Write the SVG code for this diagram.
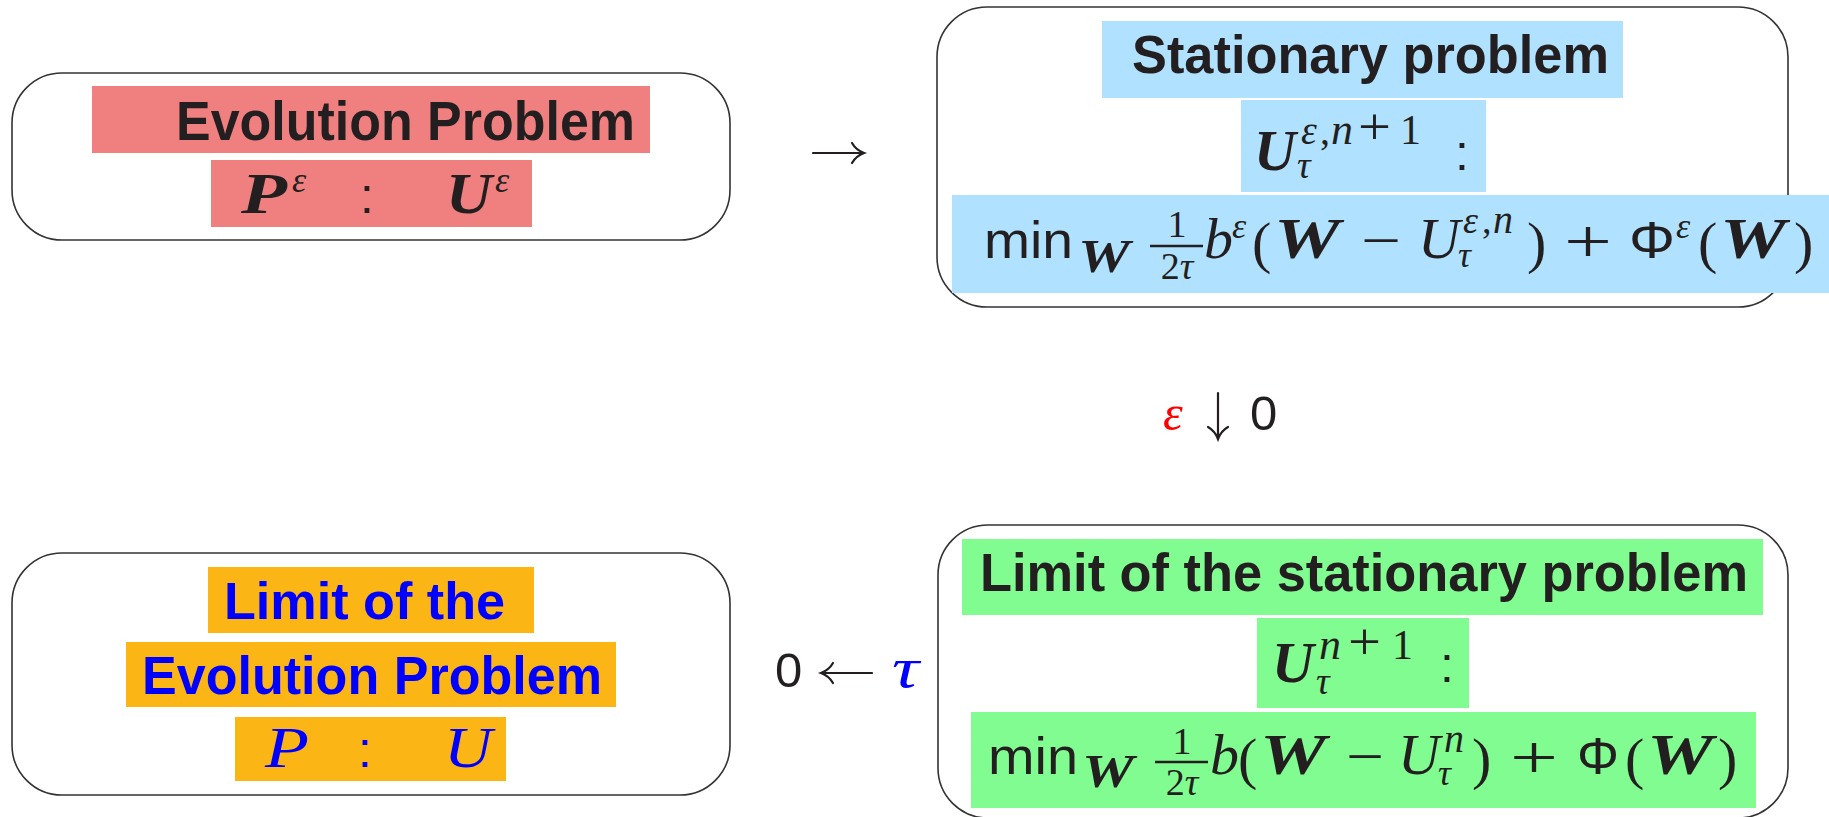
<svg xmlns="http://www.w3.org/2000/svg" width="1829" height="817" viewBox="0 0 1829 817">
<style>
.box{fill:#fff;stroke:#333;stroke-width:1.6}
.red{fill:#F08080}.blu{fill:#B0E2FF}.grn{fill:#80FC90}.org{fill:#FBB615}
.t{font-family:"Liberation Sans",Arial,sans-serif;font-weight:bold;fill:#231F20}
.tb{fill:#0000FF}
.ms{font-family:"Liberation Sans",Arial,sans-serif;fill:#231F20}
.mi{font-family:"Liberation Serif","Times New Roman",serif;font-style:italic;fill:#231F20}
.mb{font-family:"Liberation Serif","Times New Roman",serif;font-style:italic;font-weight:bold;fill:#231F20}
.mr{font-family:"Liberation Serif","Times New Roman",serif;fill:#231F20}
.arr{fill:none;stroke:#231F20;stroke-width:2.2;stroke-linecap:round}
.bar{stroke:#231F20;stroke-width:2.4}
</style>
<rect width="1829" height="817" fill="#fff"/>

<g id="evolution">
<rect class="box" x="12" y="73" width="718" height="167" rx="50"/>
<rect class="red" x="92" y="86" width="558" height="67"/>
<rect class="red" x="211" y="160" width="321" height="67"/>
<text class="t" x="176" y="140" font-size="55" textLength="459" lengthAdjust="spacingAndGlyphs">Evolution Problem</text>
<text class="mb" x="241" y="213" font-size="58" textLength="46" lengthAdjust="spacingAndGlyphs">P</text>
<text class="mi" x="292" y="192" font-size="36">ε</text>
<text class="ms" x="360" y="213" font-size="50">:</text>
<text class="mb" x="446" y="213" font-size="58" textLength="46" lengthAdjust="spacingAndGlyphs">U</text>
<text class="mi" x="495" y="192" font-size="36">ε</text>
</g>

<g id="stationary">
<rect class="box" x="937" y="7" width="851" height="300" rx="50"/>
<rect class="blu" x="1102" y="21" width="521" height="77"/>
<rect class="blu" x="1241" y="100" width="245" height="92"/>
<rect class="blu" x="952" y="195" width="877" height="98"/>
<text class="t" x="1132" y="73" font-size="53" textLength="477" lengthAdjust="spacingAndGlyphs">Stationary problem</text>
<text class="mb" x="1254" y="170" font-size="58">U</text>
<text class="mi" x="1301" y="144" font-size="40">ε</text>
<text class="mr" x="1320" y="144" font-size="40">,</text>
<text class="mi" x="1331" y="144" font-size="44">n</text>
<text class="mr" x="1358" y="144" font-size="52" textLength="33" lengthAdjust="spacingAndGlyphs">+</text>
<text class="mr" x="1400" y="144" font-size="42">1</text>
<text class="mi" x="1297" y="178" font-size="38">τ</text>
<text class="ms" x="1455" y="170" font-size="50">:</text>
<text class="ms" x="984" y="258" font-size="52" textLength="89" lengthAdjust="spacingAndGlyphs">min</text>
<text class="mb" x="1078" y="272" font-size="46" textLength="52" lengthAdjust="spacingAndGlyphs">W</text>
<text class="mr" x="1177" y="237" font-size="38" text-anchor="middle">1</text>
<line class="bar" x1="1150" y1="246" x2="1203" y2="246"/>
<text x="1177" y="279" font-size="38" text-anchor="middle"><tspan class="mr">2</tspan><tspan class="mi">τ</tspan></text>
<text class="mi" x="1204" y="258" font-size="58">b</text>
<text class="mi" x="1232" y="238" font-size="36">ε</text>
<text class="mr" x="1252" y="262" font-size="58">(</text>
<text class="mb" x="1274" y="258" font-size="58" textLength="66" lengthAdjust="spacingAndGlyphs">W</text>
<text class="mr" x="1361" y="260" font-size="58" textLength="40" lengthAdjust="spacingAndGlyphs">−</text>
<text class="mi" x="1418" y="258" font-size="58">U</text>
<text class="mi" x="1463" y="233" font-size="38">ε</text>
<text class="mr" x="1482" y="233" font-size="38">,</text>
<text class="mi" x="1493" y="233" font-size="40">n</text>
<text class="mi" x="1458" y="267" font-size="36">τ</text>
<text class="mr" x="1527" y="262" font-size="58">)</text>
<text class="mr" x="1564" y="262" font-size="62" textLength="48" lengthAdjust="spacingAndGlyphs">+</text>
<text class="ms" x="1629" y="258" font-size="52" textLength="46" lengthAdjust="spacingAndGlyphs">Φ</text>
<text class="mi" x="1676" y="238" font-size="36">ε</text>
<text class="mr" x="1698" y="262" font-size="58">(</text>
<text class="mb" x="1720" y="258" font-size="58" textLength="66" lengthAdjust="spacingAndGlyphs">W</text>
<text class="mr" x="1794" y="262" font-size="58">)</text>
</g>

<g id="limit-evolution">
<rect class="box" x="12" y="553" width="718" height="242" rx="50"/>
<rect class="org" x="208" y="567" width="326" height="66"/>
<rect class="org" x="126" y="642" width="490" height="65"/>
<rect class="org" x="235" y="717" width="271" height="64"/>
<text class="t tb" x="224" y="619" font-size="52" textLength="281" lengthAdjust="spacingAndGlyphs">Limit of the</text>
<text class="t tb" x="142" y="694" font-size="53" textLength="460" lengthAdjust="spacingAndGlyphs">Evolution Problem</text>
<text class="mi" x="265" y="767" font-size="58" style="fill:#0000FF" textLength="44" lengthAdjust="spacingAndGlyphs">P</text>
<text class="ms" x="358" y="767" font-size="50" style="fill:#0000FF">:</text>
<text class="mi" x="444" y="767" font-size="58" style="fill:#0000FF" textLength="48" lengthAdjust="spacingAndGlyphs">U</text>
</g>

<g id="limit-stationary">
<rect class="box" x="938" y="525" width="850" height="293" rx="50"/>
<rect class="grn" x="962" y="539" width="801" height="76"/>
<rect class="grn" x="1257" y="618" width="212" height="90"/>
<rect class="grn" x="971" y="712" width="785" height="96"/>
<text class="t" x="980" y="591" font-size="53" textLength="768" lengthAdjust="spacingAndGlyphs">Limit of the stationary problem</text>
<text class="mb" x="1272" y="682" font-size="58">U</text>
<text class="mi" x="1319" y="659" font-size="44">n</text>
<text class="mr" x="1348" y="659" font-size="52" textLength="33" lengthAdjust="spacingAndGlyphs">+</text>
<text class="mr" x="1392" y="659" font-size="42">1</text>
<text class="mi" x="1316" y="694" font-size="38">τ</text>
<text class="ms" x="1440" y="682" font-size="50">:</text>
<text class="ms" x="988" y="774" font-size="52" textLength="90" lengthAdjust="spacingAndGlyphs">min</text>
<text class="mb" x="1082" y="787" font-size="46" textLength="52" lengthAdjust="spacingAndGlyphs">W</text>
<text class="mr" x="1182" y="754" font-size="38" text-anchor="middle">1</text>
<line class="bar" x1="1155" y1="762" x2="1208" y2="762"/>
<text x="1182" y="795" font-size="38" text-anchor="middle"><tspan class="mr">2</tspan><tspan class="mi">τ</tspan></text>
<text class="mi" x="1210" y="774" font-size="58">b</text>
<text class="mr" x="1238" y="778" font-size="58">(</text>
<text class="mb" x="1260" y="774" font-size="58" textLength="66" lengthAdjust="spacingAndGlyphs">W</text>
<text class="mr" x="1346" y="776" font-size="58" textLength="38" lengthAdjust="spacingAndGlyphs">−</text>
<text class="mi" x="1398" y="774" font-size="58">U</text>
<text class="mi" x="1444" y="752" font-size="40">n</text>
<text class="mi" x="1438" y="785" font-size="36">τ</text>
<text class="mr" x="1472" y="778" font-size="58">)</text>
<text class="mr" x="1510" y="778" font-size="62" textLength="48" lengthAdjust="spacingAndGlyphs">+</text>
<text class="ms" x="1577" y="774" font-size="52" textLength="42" lengthAdjust="spacingAndGlyphs">Φ</text>
<text class="mr" x="1625" y="778" font-size="58">(</text>
<text class="mb" x="1647" y="774" font-size="58" textLength="66" lengthAdjust="spacingAndGlyphs">W</text>
<text class="mr" x="1718" y="778" font-size="58">)</text>
</g>

<g id="connectors">
<path class="arr" d="M813,153 L863,153 M852,143 Q856,150 864,153 Q856,156 852,163"/>
<path class="arr" d="M1218,393 L1218,438 M1208,427 Q1215,431 1218,439 Q1221,431 1228,427"/>
<path class="arr" d="M872,673 L822,673 M833,663 Q829,670 821,673 Q829,676 833,683"/>
</g>

<g id="labels">
<text class="mi" x="1163" y="430" font-size="50" style="fill:#FF0000">ε</text>
<text class="ms" x="1250" y="430" font-size="49">0</text>
<text class="ms" x="775" y="687" font-size="49">0</text>
<text class="mi" x="892" y="687" font-size="56" style="fill:#0000FF" textLength="27" lengthAdjust="spacingAndGlyphs">τ</text>
</g>
</svg>
